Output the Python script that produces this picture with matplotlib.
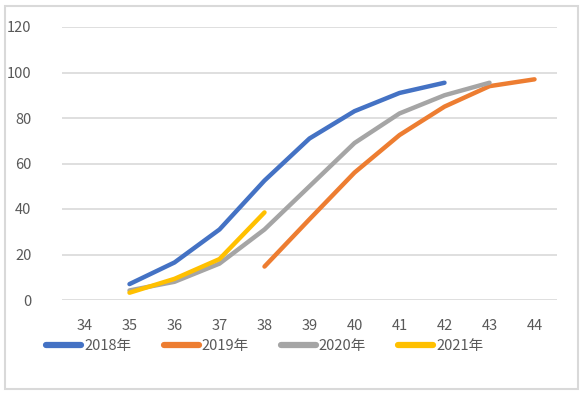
import matplotlib.pyplot as plt
from matplotlib.patches import Rectangle

plt.rcParams['font.family'] = ['Noto Sans CJK SC', 'DejaVu Sans']

weeks = [34, 35, 36, 37, 38, 39, 40, 41, 42, 43, 44]

# week -> value, per season
weeks_2018 = [35, 36, 37, 38, 39, 40, 41, 42]
vals_2018 = [7, 16.5, 31, 52.5, 71, 83, 91, 95.5]

weeks_2019 = [38, 39, 40, 41, 42, 43, 44]
vals_2019 = [14.7, 35.5, 56, 72.5, 85, 94, 97]

weeks_2020 = [35, 36, 37, 38, 39, 40, 41, 42, 43]
vals_2020 = [4.2, 8, 16, 31, 50, 69, 82, 90, 95.5]

weeks_2021 = [35, 36, 37, 38]
vals_2021 = [3.2, 9.3, 18, 38.5]

series = [
    ("2018年", weeks_2018, vals_2018, "#4472C4"),
    ("2019年", weeks_2019, vals_2019, "#ED7D31"),
    ("2020年", weeks_2020, vals_2020, "#A5A5A5"),
    ("2021年", weeks_2021, vals_2021, "#FFC000"),
]

fig = plt.figure(figsize=(5.86, 3.95), dpi=100)
ax = fig.add_axes([62 / 586, 1 - 300 / 395, 495 / 586, 273 / 395])

for label, w, v, c in series:
    xs = [weeks.index(k) for k in w]
    ax.plot(xs, v, color=c, lw=3.2, label=label, solid_capstyle="round")

ax.set_xlim(-0.5, len(weeks) - 0.5)
ax.set_ylim(0, 120)
ax.set_yticks(range(0, 121, 20))
ax.set_xticks(range(len(weeks)))
ax.set_xticklabels([str(k) for k in weeks])
ax.grid(axis="y", color="#D9D9D9", lw=1.2)
ax.set_axisbelow(True)
for s in ax.spines.values():
    s.set_visible(False)
ax.tick_params(length=0, colors="#595959", labelsize=10.5)
ax.tick_params(axis="x", pad=14)
ax.tick_params(axis="y", pad=22)

leg = ax.legend(loc="upper center", bbox_to_anchor=(0.41, -0.095), ncol=4,
                frameon=False, fontsize=10.5, handlelength=2.4,
                columnspacing=2.2, handletextpad=0.2)
for t in leg.get_texts():
    t.set_color("#595959")
for h in leg.get_lines():
    h.set_linewidth(4.5)
    h.set_solid_capstyle("round")

fig.patches.append(Rectangle((5 / 586, 1 - 389 / 395), 573 / 586, 383 / 395,
                             transform=fig.transFigure, fill=False,
                             edgecolor="#D9D9D9", lw=1.5))

fig.savefig("out.png", dpi=100)
